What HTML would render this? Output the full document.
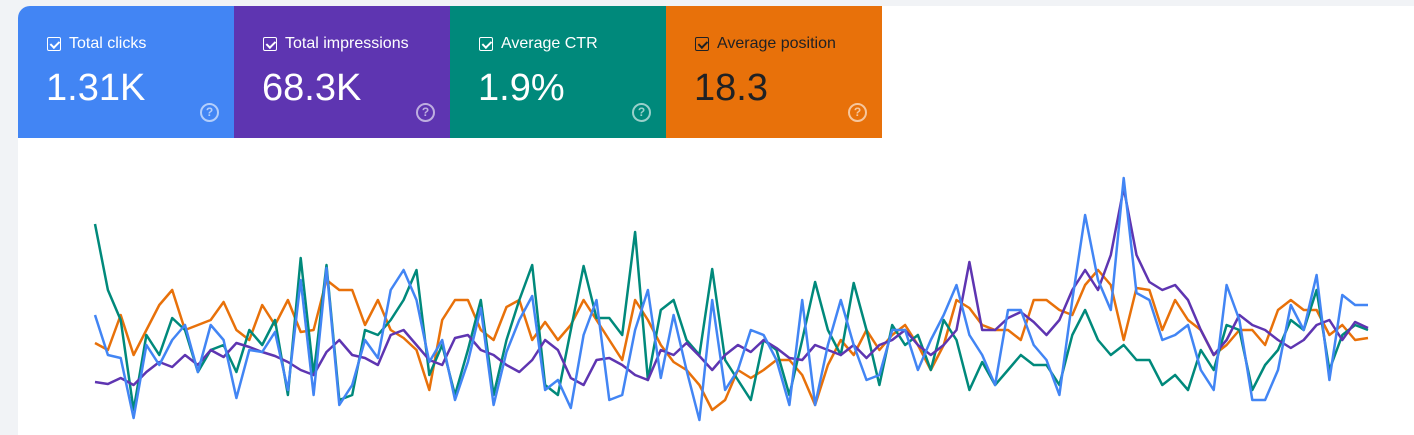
<!DOCTYPE html>
<html><head><meta charset="utf-8"><style>
html,body{margin:0;padding:0;width:1414px;height:435px;overflow:hidden;background:#f1f3f6;font-family:"Liberation Sans",sans-serif}
#panel{position:absolute;left:18px;top:6px;width:1396px;height:429px;background:#fff;border-top-left-radius:12px;overflow:hidden}
.card{position:absolute;top:0;width:216px;height:132px;color:#fff}
.lbl{position:absolute;left:29px;top:29px;font-size:16px;display:flex;align-items:center}
.cb{width:12px;height:12px;border:1.5px solid currentColor;border-radius:2px;margin-right:8px;position:relative}
.cb:after{content:"";position:absolute;left:3.5px;top:0.5px;width:3.5px;height:7px;border:solid currentColor;border-width:0 2px 2px 0;transform:rotate(45deg)}
.val{position:absolute;left:28px;top:61px;font-size:38px}
.help{position:absolute;left:182px;top:97px;width:15px;height:15px;border:2px solid rgba(255,255,255,.6);border-radius:50%;font-size:12px;line-height:15px;text-align:center;color:rgba(255,255,255,.6);font-weight:bold}
</style></head><body>
<div id="panel">
 <div class="card" style="left:0;background:#4285f4"><div class="lbl"><span class="cb"></span>Total clicks</div><div class="val">1.31K</div><div class="help">?</div></div>
 <div class="card" style="left:216px;background:#5e35b1"><div class="lbl"><span class="cb"></span>Total impressions</div><div class="val">68.3K</div><div class="help">?</div></div>
 <div class="card" style="left:432px;background:#00897b"><div class="lbl"><span class="cb"></span>Average CTR</div><div class="val">1.9%</div><div class="help">?</div></div>
 <div class="card" style="left:648px;background:#e8710a;color:#202124"><div class="lbl"><span class="cb"></span>Average position</div><div class="val">18.3</div><div class="help" style="border-color:rgba(255,255,255,.6)">?</div></div>
</div>
<svg id="chart" width="1414" height="435" style="position:absolute;left:0;top:0"></svg>
<script>
const clicks=[115,75,72,12,85,65,90,105,58,105,90,32,80,78,98,40,150,35,162,25,45,90,72,140,160,130,68,90,30,68,122,25,78,110,134,40,50,22,95,130,30,35,100,140,52,115,60,10,130,40,60,100,95,70,25,130,25,85,130,85,50,55,100,100,60,90,115,145,95,75,45,120,120,85,70,35,130,215,150,120,252,137,130,90,95,105,60,40,145,110,30,30,60,125,100,155,50,135,125,125];
const ctr=[206,140,110,20,95,75,112,100,58,80,85,58,100,85,110,35,172,55,165,30,35,100,95,110,130,160,55,85,35,80,130,35,90,130,165,45,35,100,164,112,112,95,198,50,120,130,90,75,161,70,50,30,90,80,35,90,148,100,75,147,100,45,105,85,95,60,110,90,40,68,45,60,75,65,65,45,95,120,90,75,85,70,70,45,55,40,80,60,105,100,40,65,80,110,100,140,60,95,105,100];
const impressions=[48,46,52,45,58,68,63,75,65,80,73,87,83,78,74,68,60,55,78,90,75,72,65,95,100,85,70,65,92,95,80,75,65,58,70,90,80,52,45,70,72,65,55,50,80,75,87,74,60,75,85,78,90,82,72,70,85,80,75,85,72,85,90,100,85,75,85,100,168,100,100,112,118,108,95,110,140,160,140,175,242,175,148,140,145,130,100,75,90,115,105,100,90,82,90,105,110,90,108,102];
const position=[87,80,115,75,100,125,140,100,105,110,128,100,90,125,105,130,98,100,150,140,140,105,130,100,92,80,40,110,130,130,100,90,123,130,90,108,90,105,130,110,90,70,130,110,85,68,60,45,20,30,60,52,60,70,70,55,25,65,90,75,100,80,95,105,85,60,85,130,122,105,100,100,90,130,130,120,115,145,160,145,90,142,140,100,130,110,100,75,85,100,100,85,120,130,120,120,95,105,90,92];
const svg=document.getElementById('chart');
const x0=95,x1=1368,base=430;
function xs(i,n){return x0+(x1-x0)*i/(n-1);}
function ys(v){return base-v;}
const series=[[position,'#e8710a','position-line'],[ctr,'#00897b','ctr-line'],[impressions,'#5e35b1','impressions-line'],[clicks,'#4285f4','clicks-line']];
series.forEach(s=>{
 const p=document.createElementNS('http://www.w3.org/2000/svg','polyline');
 p.setAttribute('points',s[0].map((v,i)=>xs(i,s[0].length).toFixed(1)+','+ys(v)).join(' '));
 p.setAttribute('fill','none');p.setAttribute('stroke',s[1]);p.setAttribute('stroke-width','2.5');p.setAttribute('stroke-linejoin','round');
 
 
 svg.appendChild(p);
});
</script>
</body></html>
